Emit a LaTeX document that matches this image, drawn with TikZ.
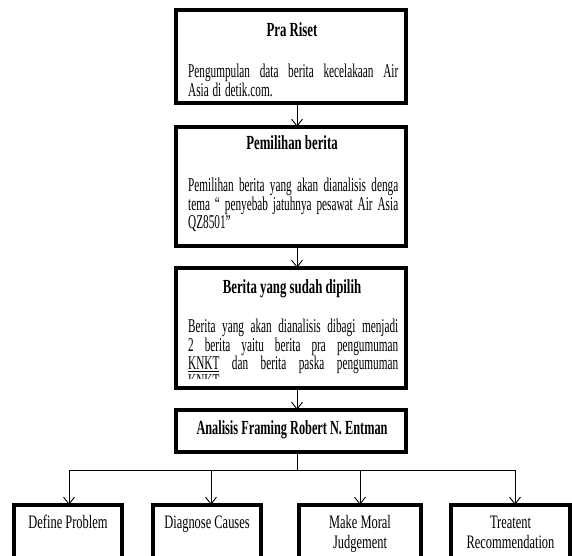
\documentclass[tikz,border=0pt]{standalone}
\usepackage{fontspec}
\usepackage{graphicx}
\setmainfont{Liberation Serif}
\usetikzlibrary{arrows.meta}
\setlength{\lineskiplimit}{-20pt}
\newcommand{\bodyscale}{0.577}
\newcommand{\jline}[1]{\leavevmode\scalebox{\bodyscale}[1]{\hbox to 364pt{\spaceskip=0.25em plus 1fil minus 0.08em\relax #1}}}
\newcommand{\eline}[1]{\leavevmode\scalebox{\bodyscale}[1]{#1}}
\newcommand{\hs}[2]{\scalebox{#1}[1]{#2}}
\begin{document}
\begin{tikzpicture}[x=1pt,y=-1pt,
  box/.style={draw, line width=3.5pt},
  ttl/.style={font=\fontsize{20}{22}\selectfont\bfseries, inner sep=0pt, anchor=base},
  body/.style={font=\fontsize{19.5}{16.5}\selectfont, text width=210pt, align=left, inner sep=0pt, anchor=base west},
  leaf/.style={font=\fontsize{19}{20}\selectfont, align=center, inner sep=0pt, anchor=base},
  link/.style={line width=0.9pt, -{Straight Barb[length=7pt,width=11pt]}},
  wire/.style={line width=0.9pt}]
\useasboundingbox (0,0) rectangle (572,555);
\clip (0,0) rectangle (572,555);
% main column boxes
\draw[box] (176,10) rectangle (406,103);
\node[inner sep=0pt, minimum width=230pt, minimum height=93pt] (b1) at (291,56.5) {};
\draw[box] (176,127) rectangle (406,246);
\node[inner sep=0pt, minimum width=230pt, minimum height=119pt] (b2) at (291,186.5) {};
\draw[box] (176,268) rectangle (406,388);
\node[inner sep=0pt, minimum width=230pt, minimum height=120pt] (b3) at (291,328) {};
\draw[box] (176,410) rectangle (406,452);
\node[inner sep=0pt, minimum width=230pt, minimum height=42pt] (b4) at (291,431) {};
% texts
\node[ttl] (t1) at (292,36) {\hs{0.64}{Pra Riset}};
\node[body] (x1) at (188,77.5) {\jline{Pengumpulan data berita kecelakaan Air}\\\eline{Asia di detik.com.}};
\node[ttl] (t2) at (292,149) {\hs{0.64}{Pemilihan berita}};
\node[body] (x2) at (188,191.5) {\jline{Pemilihan berita yang akan dianalisis denga}\\\jline{tema “ penyebab jatuhnya pesawat Air Asia}\\\eline{QZ8501”}};
\node[ttl] (t3) at (292,293) {\hs{0.64}{Berita yang sudah dipilih}};
\begin{scope}
\clip (178,270) rectangle (404,378);
\node[body, font=\fontsize{19.5}{17.5}\selectfont] (x3) at (188,332.5) {\jline{Berita yang akan dianalisis dibagi menjadi}\\\jline{2 berita yaitu berita pra pengumuman}\\\jline{\underline{KNKT} dan berita paska pengumuman}\\\eline{KNKT.}};
\end{scope}
\node[ttl] (t4) at (292,434.5) {\hs{0.615}{Analisis Framing Robert N. Entman}};
% bottom boxes
\draw[box] (14,505) rectangle (122,600);
\node[inner sep=0pt, minimum width=108pt, minimum height=95pt] (c1) at (68,552.5) {};
\draw[box] (153,505) rectangle (261,600);
\node[inner sep=0pt, minimum width=108pt, minimum height=95pt] (c2) at (207,552.5) {};
\draw[box] (299,505) rectangle (421,600);
\node[inner sep=0pt, minimum width=122pt, minimum height=95pt] (c3) at (360,552.5) {};
\draw[box] (451,505) rectangle (570,600);
\node[inner sep=0pt, minimum width=119pt, minimum height=95pt] (c4) at (510.5,552.5) {};
\node[leaf] (l1) at (68,528) {\hs{0.655}{Define Problem}};
\node[leaf] (l2) at (207,528) {\hs{0.655}{Diagnose Causes}};
\node[leaf] (l3) at (360,548) {\hs{0.655}{Make Moral}\\\hs{0.655}{Judgement}};
\node[leaf] (l4) at (510.5,548) {\hs{0.655}{Treatent}\\\hs{0.655}{Recommendation}};
% connectors
\coordinate (ax) at (297,0);
\draw[link] (b1.south -| ax) -- (b2.north -| ax);
\draw[link] (b2.south -| ax) -- (b3.north -| ax);
\draw[link] (b3.south -| ax) -- (b4.north -| ax);
\coordinate (j) at (297,470);
\coordinate (j1) at (69,470);
\coordinate (j2) at (211,470);
\coordinate (j3) at (360,470);
\coordinate (j4) at (515,470);
\draw[wire] (b4.south -| ax) -- (j);
\draw[wire] (j1) -- (j4);
\draw[link] (j1) -- (j1 |- c1.north);
\draw[link] (j2) -- (j2 |- c2.north);
\draw[link] (j3) -- (j3 |- c3.north);
\draw[link] (j4) -- (j4 |- c4.north);
\end{tikzpicture}
\end{document}
